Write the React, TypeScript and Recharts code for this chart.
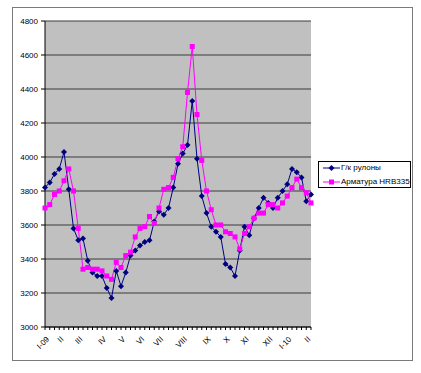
import React from 'react';
import { LineChart, Line, XAxis, YAxis, CartesianGrid, Legend } from 'recharts';

const FONT = '"Liberation Sans", Arial, sans-serif';

// Weekly prices, Jan 2009 – Feb 2010
const coilName = 'Г/к рулоны';
const rebarName = 'Арматура HRB335';

const coilPrices = [
  3820, 3850, 3900, 3930, 4030, 3810, 3580, 3510, 3520, 3390,
  3320, 3300, 3300, 3230, 3170, 3330, 3240, 3320, 3420, 3450,
  3480, 3500, 3510, 3620, 3680, 3660, 3700, 3820, 3960, 4020,
  4070, 4330, 3990, 3770, 3670, 3590, 3560, 3530, 3370, 3350,
  3300, 3450, 3590, 3540, 3640, 3700, 3760, 3730, 3700, 3760,
  3800, 3840, 3930, 3910, 3880, 3740, 3780,
];

const rebarPrices = [
  3700, 3720, 3780, 3800, 3860, 3930, 3800, 3580, 3340, 3350,
  3340, 3340, 3330, 3300, 3280, 3380, 3350, 3420, 3440, 3530,
  3580, 3590, 3650, 3610, 3700, 3810, 3820, 3880, 3990, 4060,
  4380, 4650, 4250, 3980, 3800, 3690, 3600, 3600, 3560, 3550,
  3530, 3460, 3550, 3590, 3640, 3670, 3670, 3720, 3720, 3700,
  3730, 3770, 3820, 3870, 3820, 3790, 3730,
];

const monthLabels = ['I-09', 'II', 'III', 'IV', 'V', 'VI', 'VII', 'VIII', 'IX', 'X', 'XI', 'XII', 'I-10', 'II'];
const monthLabelWeeks = [0, 3, 7, 12, 16, 20, 24, 29, 34, 38, 42, 47, 51, 55];

const yTicks = [3000, 3200, 3400, 3600, 3800, 4000, 4200, 4400, 4600, 4800];

const data = coilPrices.map((v, i) => ({ week: i, coil: v, rebar: rebarPrices[i] }));

const XTick = (props: any) => {
  const { x, y, payload } = props;
  const k = monthLabelWeeks.indexOf(payload.value);
  if (k < 0) return <g />;
  const ax = x + 3;
  const ay = y + 6;
  return (
    <text
      x={ax}
      y={ay}
      transform={`rotate(-45 ${ax} ${ay})`}
      textAnchor="end"
      dominantBaseline="central"
      fontSize={8}
      fontFamily={FONT}
      fill="#000"
    >
      {monthLabels[k]}
    </text>
  );
};

const Diamond = (p: any) => {
  const { cx, cy } = p;
  if (cx == null || cy == null) return <g />;
  return (
    <polygon
      points={`${cx},${cy - 3} ${cx + 3},${cy} ${cx},${cy + 3} ${cx - 3},${cy}`}
      fill="#000080"
    />
  );
};

const Square = (p: any) => {
  const { cx, cy } = p;
  if (cx == null || cy == null) return <g />;
  return <rect x={cx - 2.5} y={cy - 2.5} width={5} height={5} fill="#FF00FF" />;
};

const LegendBox = () => (
  <div
    style={{
      width: 93,
      height: 27,
      border: '1px solid #000',
      background: '#fff',
      boxSizing: 'border-box',
      fontFamily: FONT,
      fontSize: 8,
      color: '#000',
      position: 'relative',
    }}
  >
    <svg width={20} height={26} style={{ position: 'absolute', left: 3, top: 0 }}>
      <line x1={1} y1={6} x2={18} y2={6} stroke="#000080" strokeWidth={1} />
      <polygon points="9.5,3 12.5,6 9.5,9 6.5,6" fill="#000080" />
      <line x1={1} y1={20} x2={18} y2={20} stroke="#FF00FF" strokeWidth={1} />
      <rect x={7} y={17.5} width={5} height={5} fill="#FF00FF" />
    </svg>
    <div style={{ position: 'absolute', left: 22, top: 1, lineHeight: '10px', whiteSpace: 'nowrap' }}>{coilName}</div>
    <div style={{ position: 'absolute', left: 22, top: 15, lineHeight: '10px', whiteSpace: 'nowrap' }}>{rebarName}</div>
  </div>
);

export default function App() {
  return (
    <div style={{ position: 'absolute', left: 0, top: 0, width: 421, height: 373, background: '#fff' }}>
      <div
        style={{
          position: 'absolute',
          left: 12,
          top: 7,
          width: 401,
          height: 354,
          border: '1px solid #7a7a7a',
          boxSizing: 'border-box',
        }}
      />
      <div style={{ position: 'absolute', left: 0, top: 0 }}>
        <LineChart width={421} height={373} data={data} margin={{ top: 21, right: 110, left: 0, bottom: 0 }}>
          <CartesianGrid vertical={false} stroke="#3a3a3a" fill="#C0C0C0" />
          <XAxis
            dataKey="week"
            interval={0}
            height={46}
            tick={<XTick />}
            tickSize={3}
            tickLine={{ stroke: '#000' }}
            axisLine={{ stroke: '#000' }}
          />
          <YAxis
            domain={[3000, 4800]}
            ticks={yTicks}
            interval={0}
            width={45}
            tickSize={4}
            tickMargin={3}
            tickLine={{ stroke: '#000' }}
            axisLine={{ stroke: '#000' }}
            tick={{ fontSize: 8, fill: '#000', fontFamily: FONT }}
          />
          <Legend
            layout="vertical"
            align="center"
            verticalAlign="middle"
            content={<LegendBox />}
            wrapperStyle={{ position: 'absolute', left: 318, top: 161, width: 93, height: 27 }}
          />
          <Line
            type="linear"
            dataKey="coil"
            name={coilName}
            stroke="#000080"
            strokeWidth={1}
            dot={<Diamond />}
            activeDot={false}
            isAnimationActive={false}
          />
          <Line
            type="linear"
            dataKey="rebar"
            name={rebarName}
            stroke="#FF00FF"
            strokeWidth={1}
            dot={<Square />}
            activeDot={false}
            isAnimationActive={false}
          />
        </LineChart>
      </div>
    </div>
  );
}
